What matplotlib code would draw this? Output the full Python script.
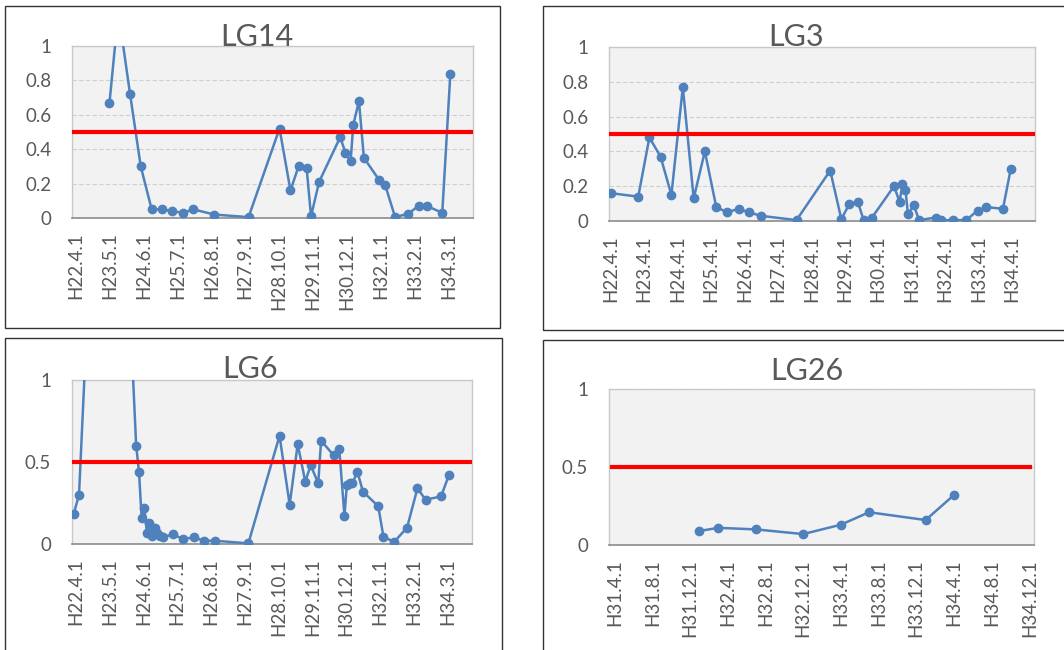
import matplotlib.pyplot as plt
from matplotlib.patches import Rectangle

plt.rcParams['font.family'] = ['Lato', 'DejaVu Sans']

# x values are months counted from H22.4.1
lg14_x = [12.9, 16.3, 20.8, 24.9, 29.1, 33.1, 37.0, 41.0, 45.1, 53.2, 66.3, 78.2, 82.4,
          85.5, 88.6, 90.3, 93.4, 101.5, 103.5, 105.5, 106.5, 108.7, 110.6, 116.5,
          118.8, 122.6, 127.6, 131.6, 134.8, 140.7, 143.8]
lg14_y = [0.67, 1.2, 0.72, 0.30, 0.05, 0.05, 0.04, 0.03, 0.05, 0.02, 0.005, 0.52, 0.16,
          0.30, 0.29, 0.01, 0.21, 0.47, 0.38, 0.33, 0.54, 0.68, 0.35, 0.22,
          0.19, 0.005, 0.025, 0.07, 0.07, 0.03, 0.84]

lg3_x = [0.0, 9.9, 13.9, 17.9, 21.8, 25.9, 29.8, 33.8, 37.9, 41.8, 45.9, 49.7, 53.8,
         66.7, 78.8, 82.8, 85.7, 88.7, 90.8, 93.8, 101.7, 103.7, 104.7, 105.8, 106.7,
         108.8, 110.7, 116.7, 118.7, 122.7, 127.6, 131.7, 134.8, 140.8, 143.6]
lg3_y = [0.16, 0.14, 0.48, 0.37, 0.15, 0.77, 0.13, 0.40, 0.08, 0.05, 0.07, 0.05, 0.03,
         0.005, 0.29, 0.01, 0.10, 0.11, 0.005, 0.02, 0.20, 0.11, 0.21, 0.18, 0.04,
         0.09, 0.005, 0.02, 0.005, 0.005, 0.005, 0.06, 0.08, 0.07, 0.30]

lg6_x = [-0.9, 1.2, 12.7, 23.2, 24.3, 25.3, 26.4, 27.3, 28.3, 29.3, 30.3, 31.3, 32.3,
         33.5, 37.3, 41.2, 45.3, 49.3, 53.4, 66.4, 78.4, 82.3, 85.4, 88.3, 90.4, 93.3,
         94.4, 99.3, 101.4, 103.4, 104.3, 105.4, 106.4, 108.4, 110.5, 116.4, 118.4,
         122.5, 127.5, 131.5, 134.6, 140.6, 143.6]
lg6_y = [0.18, 0.30, 4.25, 0.60, 0.44, 0.16, 0.22, 0.07, 0.13, 0.05, 0.10, 0.07, 0.05,
         0.04, 0.06, 0.03, 0.04, 0.02, 0.02, 0.004, 0.66, 0.24, 0.61, 0.38, 0.48, 0.37,
         0.63, 0.54, 0.58, 0.17, 0.36, 0.37, 0.37, 0.44, 0.32, 0.23, 0.045,
         0.012, 0.10, 0.34, 0.27, 0.29, 0.42]

lg26_x = [117, 119, 123, 128, 132, 135, 141, 144]
lg26_y = [0.09, 0.11, 0.10, 0.07, 0.13, 0.21, 0.16, 0.32]

ticks_13m = ['H22.4.1', 'H23.5.1', 'H24.6.1', 'H25.7.1', 'H26.8.1', 'H27.9.1', 'H28.10.1',
             'H29.11.1', 'H30.12.1', 'H32.1.1', 'H33.2.1', 'H34.3.1']
ticks_12m = ['H22.4.1', 'H23.4.1', 'H24.4.1', 'H25.4.1', 'H26.4.1', 'H27.4.1', 'H28.4.1',
             'H29.4.1', 'H30.4.1', 'H31.4.1', 'H32.4.1', 'H33.4.1', 'H34.4.1']
ticks_4m = ['H31.4.1', 'H31.8.1', 'H31.12.1', 'H32.4.1', 'H32.8.1', 'H32.12.1',
            'H33.4.1', 'H33.8.1', 'H33.12.1', 'H34.4.1', 'H34.8.1', 'H34.12.1']

threshold = 0.5

BLUE = '#4F81BD'
GREY = '#595959'


def to_month(label):
    y, m, d = label[1:].split('.')
    return (int(y) - 22) * 12 + int(m) - 4


def panel(fig, rect, xs, ys, labels, xlim, yticks, ylabels, red_span=(0, 1)):
    ax = fig.add_axes(rect)
    ax.set_facecolor('#F2F2F2')
    ax.plot(xs, ys, color=BLUE, lw=1.8, marker='o', ms=6, zorder=3)
    ax.axhline(threshold, xmin=red_span[0], xmax=red_span[1], color='#FF0000', lw=3, zorder=4)
    ax.set_xlim(*xlim)
    ax.set_ylim(0, 1)
    ax.set_xticks([to_month(l) for l in labels])
    ax.set_xticklabels(labels, rotation=90)
    ax.set_yticks(yticks)
    ax.set_yticklabels(ylabels)
    ax.tick_params(length=0, labelsize=13.5, labelcolor=GREY)
    ax.tick_params(axis='y', pad=15)
    ax.tick_params(axis='x', pad=10)
    ax.yaxis.grid(True, color='#CFCFCF', lw=0.8, ls=(0, (4, 2)))
    ax.set_axisbelow(True)
    for s in ['top', 'left', 'right']:
        ax.spines[s].set_color('#C8C8C8')
        ax.spines[s].set_linewidth(1)
    ax.spines['bottom'].set_color('#8C8C8C')
    ax.spines['bottom'].set_linewidth(1.2)
    return ax


fig = plt.figure(figsize=(10.64, 6.5), dpi=100)

# chart frames
for x0, y0, x1, y1 in [(5, 6, 500, 328), (543, 6, 1075, 330),
                       (5, 338, 502, 660), (543, 340, 1075, 660)]:
    fig.patches.append(Rectangle((x0 / 1064, 1 - y1 / 650), (x1 - x0) / 1064, (y1 - y0) / 650,
                                 transform=fig.transFigure, fill=False,
                                 edgecolor='#333333', lw=1))

y5 = [0, 0.2, 0.4, 0.6, 0.8, 1]
y5l = ['0', '0.2', '0.4', '0.6', '0.8', '1']
y2 = [0, 0.5, 1]
y2l = ['0', '0.5', '1']

panel(fig, [72 / 1064, 1 - 218 / 650, 401 / 1064, 172 / 650], lg14_x, lg14_y,
      ticks_13m, (-1.5, 152.5), y5, y5l)
panel(fig, [609 / 1064, 1 - 221 / 650, 426 / 1064, 174 / 650], lg3_x, lg3_y,
      ticks_12m, (-0.6, 152.3), y5, y5l)
panel(fig, [72 / 1064, 1 - 544 / 650, 400 / 1064, 164 / 650], lg6_x, lg6_y,
      ticks_13m, (-1.5, 152.5), y2, y2l)
panel(fig, [609 / 1064, 1 - 545 / 650, 425 / 1064, 156 / 650], lg26_x, lg26_y,
      ticks_4m, (107.4, 152.5), y2, y2l, red_span=(0.008, 0.99))

for name, cx, by in [('LG14', 257, 46), ('LG3', 796, 46), ('LG6', 250, 378), ('LG26', 807, 380)]:
    fig.text(cx / 1064, 1 - by / 650, name, ha='center', va='baseline',
             fontsize=22, color=GREY)

fig.savefig('out.png', dpi=100)
